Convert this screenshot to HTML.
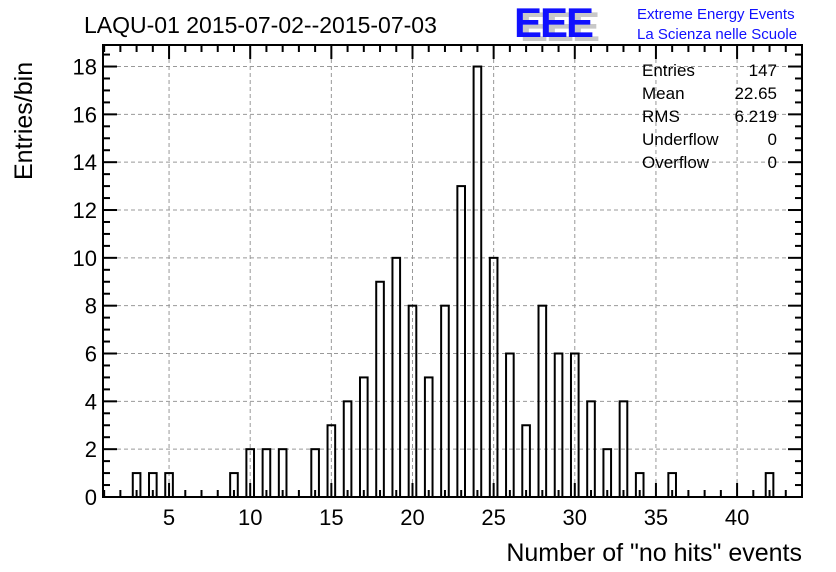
<!DOCTYPE html>
<html><head><meta charset="utf-8"><style>
body{margin:0;background:#fff;}
svg{display:block;font-family:"Liberation Sans",sans-serif;}
</style></head><body>
<svg width="836" height="572" viewBox="0 0 836 572">
<g id="grid"></g>
<g id="bars"></g>
<g id="axes"></g>
<text x="84" y="33" font-size="23">LAQU-01 2015-07-02--2015-07-03</text>
<g>
<text x="520" y="41" font-size="42" font-weight="bold" fill="#c8c8c8" letter-spacing="-2">EEE</text>
<text x="514" y="37" font-size="42" font-weight="bold" fill="#1010ff" letter-spacing="-2">EEE</text>
<text x="637" y="19" font-size="15" fill="#1010ff">Extreme Energy Events</text>
<text x="637" y="39" font-size="15" fill="#1010ff">La Scienza nelle Scuole</text>
</g>
<g font-size="17">
<text x="642" y="76">Entries</text><text x="777" y="76" text-anchor="end">147</text>
<text x="642" y="99">Mean</text><text x="777" y="99" text-anchor="end">22.65</text>
<text x="642" y="122">RMS</text><text x="777" y="122" text-anchor="end">6.219</text>
<text x="642" y="145">Underflow</text><text x="777" y="145" text-anchor="end">0</text>
<text x="642" y="168">Overflow</text><text x="777" y="168" text-anchor="end">0</text>
</g>
<text x="802" y="561" font-size="25" text-anchor="end">Number of "no hits" events</text>
<text transform="translate(32,180) rotate(-90)" font-size="25">Entries/bin</text>
</svg>
<script>
const categories=[3,4,5,9,10,11,12,14,15,16,17,18,19,20,21,22,23,24,25,26,27,28,29,30,31,32,33,34,36,42];
const counts=[1,1,1,1,2,2,2,2,3,4,5,9,10,8,5,8,13,18,10,6,3,8,6,6,4,2,4,1,1,1];
const xTicks=[5,10,15,20,25,30,35,40];
const yTicks=[0,2,4,6,8,10,12,14,16,18];
const L=103,R=802,T=45,B=497;
const X0=0.93,X1=44.0,Y1=18.9;
const sx=v=>L+(v-X0)/(X1-X0)*(R-L);
const sy=v=>B-v/Y1*(B-T);
const NS="http://www.w3.org/2000/svg";
function mk(t,a,p){const e=document.createElementNS(NS,t);for(const k in a)e.setAttribute(k,a[k]);p.appendChild(e);return e;}
const grid=document.getElementById('grid'),bars=document.getElementById('bars'),axes=document.getElementById('axes');
xTicks.forEach(v=>{const l=mk('line',{x1:sx(v),x2:sx(v),y1:T,y2:B,stroke:'#999','stroke-dasharray':'4,3','stroke-width':1},grid);

});
yTicks.forEach(v=>{if(v===0)return;const l=mk('line',{x1:L,x2:R,y1:sy(v),y2:sy(v),stroke:'#999','stroke-dasharray':'4,3','stroke-width':1},grid);

});
categories.forEach((c,i)=>{const w=0.47;const r=mk('rect',{x:sx(c-w/2),y:sy(counts[i]),width:sx(c+w/2)-sx(c-w/2),height:B-sy(counts[i]),fill:'none',stroke:'#000','stroke-width':2},bars);

});
const fr=mk('rect',{x:L,y:T,width:R-L,height:B-T,fill:'none',stroke:'#000','stroke-width':2},axes);


for(let v=1;v<=44;v++){const maj=v%5===0;const len=maj?14:7;
mk('line',{x1:sx(v),x2:sx(v),y1:B,y2:B-len,stroke:'#000','stroke-width':2},axes);
mk('line',{x1:sx(v),x2:sx(v),y1:T,y2:T+len,stroke:'#000','stroke-width':2},axes);}
for(let v=0;v<=18.5;v+=0.5){const maj=(v%2===0);const len=maj?14:7;
mk('line',{x1:L,x2:L+len,y1:sy(v),y2:sy(v),stroke:'#000','stroke-width':2},axes);
mk('line',{x1:R,x2:R-len,y1:sy(v),y2:sy(v),stroke:'#000','stroke-width':2},axes);}
xTicks.forEach(v=>{const t=mk('text',{x:sx(v),y:B+28,'font-size':22,'text-anchor':'middle'},axes);t.textContent=v;

});
yTicks.forEach(v=>{const t=mk('text',{x:L-6,y:sy(v)+8,'font-size':22,'text-anchor':'end'},axes);t.textContent=v;

});
</script>
</body></html>
